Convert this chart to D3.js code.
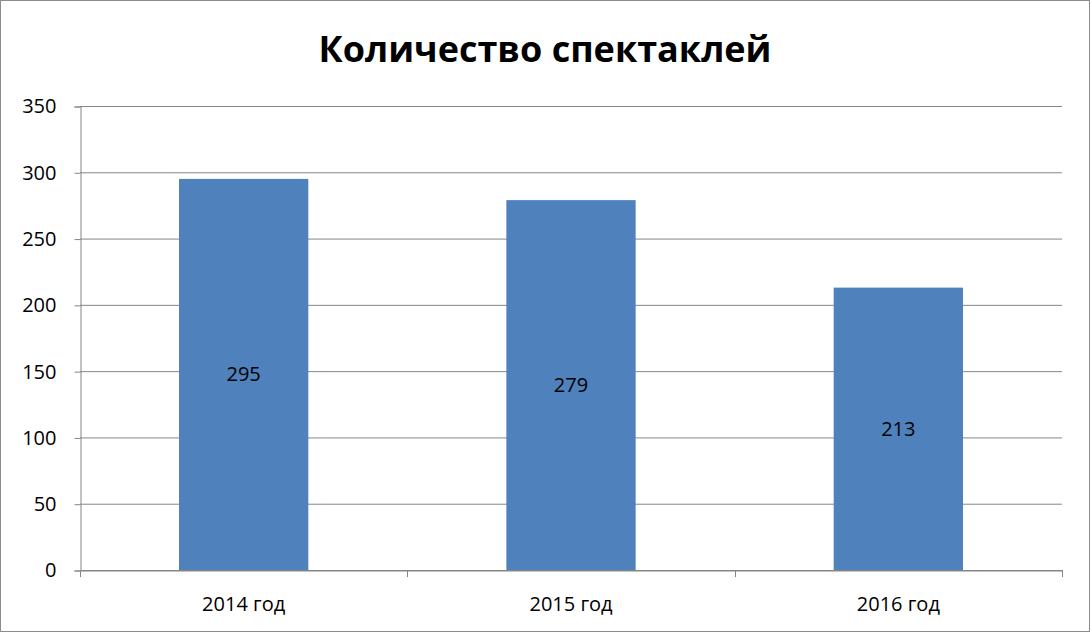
<!DOCTYPE html>
<html><head><meta charset="utf-8">
<script src="https://cdn.jsdelivr.net/npm/d3@7"></script>
<style>body{margin:0;background:#fff}text{font-family:"Open Sans","Liberation Sans",sans-serif}</style>
</head><body><svg id="c" width="1091" height="633"></svg>
<script>
const categories = ["2014 год","2015 год","2016 год"];
const values = [295,279,213];
const yTicks = [0,50,100,150,200,250,300,350];
const title = "Количество спектаклей";

const svg = d3.select("#c");
svg.append("rect").attr("x",0.5).attr("y",0.5).attr("width",1089).attr("height",631)
  .attr("fill","#fff").attr("stroke","#8c8c8c");
const L=80,R=1062,T=106,B=570;
const x = d3.scaleBand().domain(categories).range([L,R]);
const y = d3.scaleLinear().domain([0,350]).range([B,T]);

svg.append("g").selectAll("line").data(yTicks).join("line")
  .attr("x1",L).attr("x2",R).attr("y1",d=>y(d)+0.5).attr("y2",d=>y(d)+0.5)
  .attr("stroke","#868686");
const ya = svg.append("g").attr("transform",`translate(${L+0.5},0.5)`)
  .call(d3.axisLeft(y).tickValues(yTicks).tickSize(6).tickPadding(18));
ya.select(".domain").attr("stroke","#868686");
ya.selectAll(".tick line").attr("stroke","#868686");
ya.selectAll("text").attr("font-size",20).attr("fill","#000");

const bw = x.bandwidth()*0.395;
svg.append("g").selectAll("rect").data(values).join("rect")
  .attr("x",(d,i)=>x(categories[i])+x.bandwidth()/2-bw/2).attr("width",bw)
  .attr("y",d=>y(d)).attr("height",d=>B-y(d)).attr("fill","#4f81bd");
svg.append("g").selectAll("text").data(values).join("text")
  .attr("x",(d,i)=>x(categories[i])+x.bandwidth()/2).attr("y",d=>(y(d)+B)/2+7)
  .attr("text-anchor","middle").attr("font-size",20).text(d=>d);

const xa = svg.append("g").attr("transform",`translate(0,${B+0.5})`)
  .call(d3.axisBottom(x).tickSize(0).tickPadding(26));
xa.select(".domain").attr("stroke","#868686");
xa.selectAll("text").attr("font-size",20).attr("fill","#000");
svg.append("g").selectAll("line").data([L,L+x.step(),L+2*x.step(),R]).join("line")
  .attr("x1",d=>Math.round(d)+0.5).attr("x2",d=>Math.round(d)+0.5).attr("y1",B).attr("y2",B+7)
  .attr("stroke","#868686");

svg.append("text").attr("x",545).attr("y",62).attr("text-anchor","middle")
  .attr("font-size",36).attr("font-weight","bold").text(title);
</script></body></html>
